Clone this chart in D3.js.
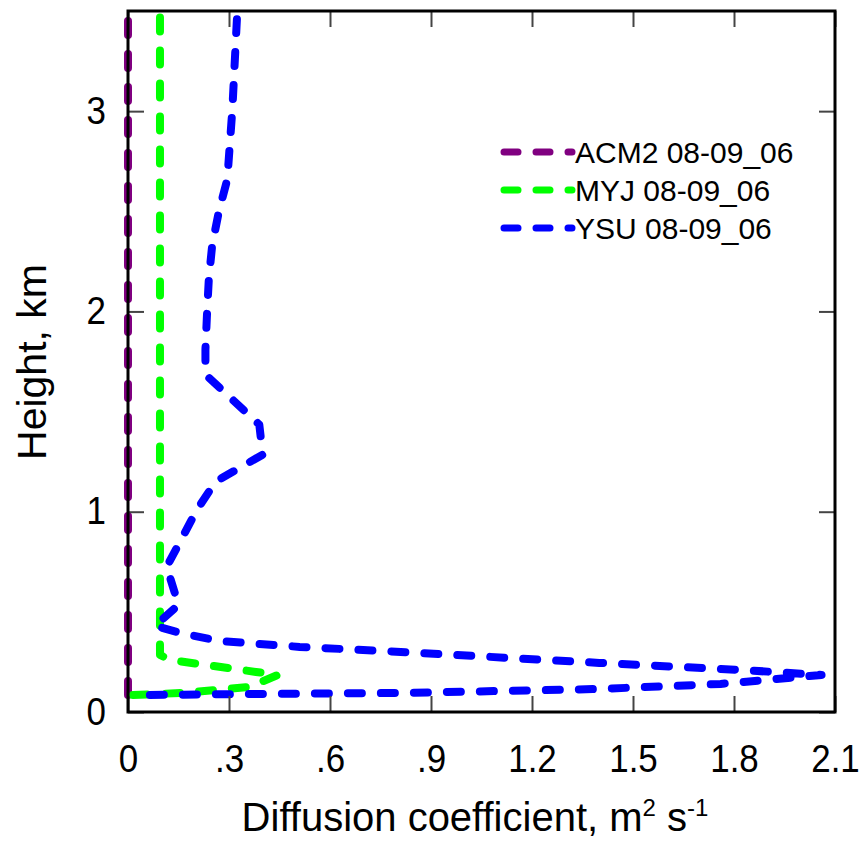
<!doctype html>
<html lang="en">
<head>
<meta charset="utf-8">
<title>Diffusion coefficient profiles</title>
<script src="https://cdn.jsdelivr.net/npm/d3@7"></script>
<style>
  body { margin: 0; background: #fff; }
  text { font-family: "Liberation Sans", Arial, Helvetica, sans-serif; fill: #000; }
</style>
</head>
<body>
<script>
// tick values and labels
var xTicks = [0, 0.3, 0.6, 0.9, 1.2, 1.5, 1.8, 2.1];
var xTickLabels = ["0", ".3", ".6", ".9", "1.2", "1.5", "1.8", "2.1"];
var yTicks = [0, 1, 2, 3];

// series: height (km) and diffusion coefficient (m2/s)
var acm2Height = [0.085, 0.2, 0.5, 1.0, 1.5, 2.0, 2.5, 3.0, 3.5];
var acm2Value  = [0, 0, 0, 0, 0, 0, 0, 0, 0];

var myjHeight = [0.085, 0.095, 0.125, 0.185, 0.20, 0.26, 0.285, 0.5, 1.0, 2.0, 3.5];
var myjValue  = [0.015, 0.16, 0.36, 0.445, 0.38, 0.125, 0.095, 0.095, 0.095, 0.095, 0.095];

var ysuHeight = [0.085, 0.09, 0.095, 0.115, 0.14, 0.17, 0.185, 0.21, 0.245, 0.30, 0.325, 0.355, 0.395, 0.43,
                 0.535, 0.725, 1.01, 1.15, 1.285, 1.435, 1.685, 1.81, 2.0, 2.16, 2.33, 2.5, 2.66, 3.01, 3.51];
var ysuValue  = [0.065, 0.36, 0.81, 1.40, 1.76, 1.96, 2.06, 1.82, 1.40, 0.81, 0.51, 0.27, 0.155, 0.08,
                 0.15, 0.115, 0.205, 0.26, 0.40, 0.39, 0.23, 0.23, 0.235, 0.24, 0.25, 0.27, 0.295, 0.31, 0.325];

var seriesNames = ["ACM2 08-09_06", "MYJ 08-09_06", "YSU 08-09_06"];
var seriesColors = ["#800080", "#00ff00", "#0000ff"];

var series = [
  {name: seriesNames[0], color: seriesColors[0], h: acm2Height, v: acm2Value},
  {name: seriesNames[1], color: seriesColors[1], h: myjHeight, v: myjValue},
  {name: seriesNames[2], color: seriesColors[2], h: ysuHeight, v: ysuValue}
];

var W = 861, H = 842;
var mLeft = 128, mRight = 835, mTop = 11, mBottom = 712;

var svg = d3.select("body").append("svg")
    .attr("width", W).attr("height", H);

var x = d3.scaleLinear().domain([0, 2.1]).range([mLeft, mRight]);
var y = d3.scaleLinear().domain([0, 3.5]).range([mBottom, mTop]);

var line = d3.line()
    .x(function(d){ return x(d[0]); })
    .y(function(d){ return y(d[1]); });

// data lines
svg.append("g").selectAll("path")
    .data(series)
  .enter().append("path")
    .attr("d", function(s){ return line(s.v.map(function(v, i){ return [v, s.h[i]]; })); })
    .attr("fill", "none")
    .attr("stroke", function(s){ return s.color; })
    .attr("stroke-width", 8)
    .attr("stroke-linecap", "round")
    .attr("stroke-linejoin", "round")
    .attr("stroke-dasharray", "14,19");

// axes with inward ticks
var tickCol = "#444";
function styleAxis(g) {
  g.select(".domain").remove();
  g.selectAll(".tick line").attr("stroke", tickCol).attr("stroke-width", 2);
  g.selectAll(".tick text").attr("font-size", 38).attr("fill", "#000")
    .attr("font-family", "'Liberation Sans', Arial, sans-serif")
    .attr("transform", "scale(0.92,1)");
}

svg.append("g")
    .attr("transform", "translate(0," + mBottom + ")")
    .call(d3.axisBottom(x).tickValues(xTicks)
      .tickFormat(function(d, i){ return xTickLabels[i]; })
      .tickSizeInner(-16).tickSizeOuter(0).tickPadding(33))
    .call(styleAxis);

svg.append("g")
    .attr("transform", "translate(0," + mTop + ")")
    .call(d3.axisTop(x).tickValues(xTicks).tickFormat("")
      .tickSizeInner(-16).tickSizeOuter(0))
    .call(styleAxis);

svg.append("g")
    .attr("transform", "translate(" + mLeft + ",0)")
    .call(d3.axisLeft(y).tickValues(yTicks).tickFormat(d3.format("d"))
      .tickSizeInner(-16).tickSizeOuter(0).tickPadding(24))
    .call(styleAxis);

svg.append("g")
    .attr("transform", "translate(" + mRight + ",0)")
    .call(d3.axisRight(y).tickValues(yTicks).tickFormat("")
      .tickSizeInner(-16).tickSizeOuter(0))
    .call(styleAxis);

// frame
svg.append("rect")
    .attr("x", mLeft).attr("y", mTop)
    .attr("width", mRight - mLeft).attr("height", mBottom - mTop)
    .attr("fill", "none").attr("stroke", "#000").attr("stroke-width", 3);

// legend
var legend = svg.append("g").selectAll("g")
    .data(series)
  .enter().append("g")
    .attr("transform", function(d, i){ return "translate(500," + (152 + i * 38) + ")"; });

legend.append("line")
    .attr("x1", 4).attr("x2", 72)
    .attr("stroke", function(d){ return d.color; })
    .attr("stroke-width", 7)
    .attr("stroke-linecap", "round")
    .attr("stroke-dasharray", "14,18");

legend.append("text")
    .attr("x", 75).attr("dy", "0.36em")
    .attr("font-size", 30)
    .text(function(d){ return d.name; });

// axis titles
var xt = svg.append("text")
    .attr("x", 475).attr("y", 831)
    .attr("text-anchor", "middle")
    .attr("font-size", 40);
xt.append("tspan").text("Diffusion coefficient, m");
xt.append("tspan").attr("font-size", 24).attr("dy", -15).text("2");
xt.append("tspan").attr("dy", 15).text(" s");
xt.append("tspan").attr("font-size", 24).attr("dy", -15).text("-1");

svg.append("text")
    .attr("transform", "translate(46,362) rotate(-90)")
    .attr("text-anchor", "middle")
    .attr("font-size", 41)
    .text("Height, km");
</script>
</body>
</html>
